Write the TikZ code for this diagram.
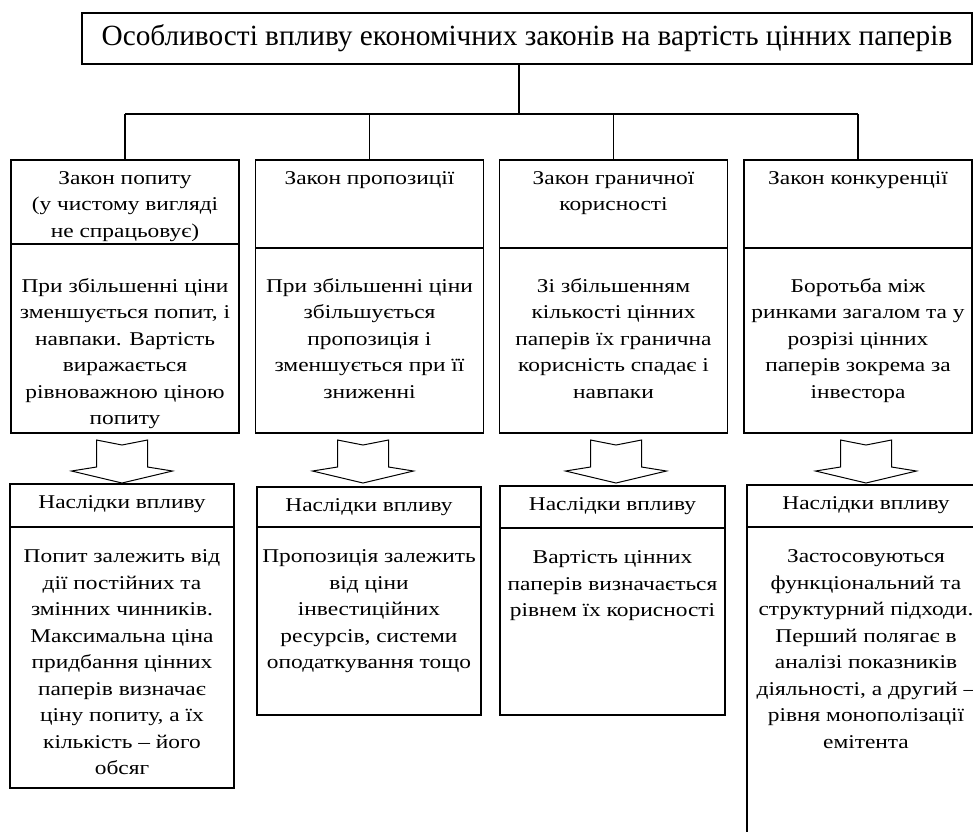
\documentclass[tikz,border=0pt]{standalone}
\usepackage{fontspec}
\setmainfont{Liberation Serif}
\newfontfamily\cellfont{Liberation Serif}[FakeStretch=1.2]
\usepackage{tikz}

\newcommand{\celltext}[4]{\parbox[c][#2pt][t]{#1pt}{\centering\vspace*{#3pt}\strut #4}}

\tikzset{
	cell/.style={draw, line width=1.2pt, inner sep=0pt, outer sep=0pt, font=\cellfont\fontsize{19.5}{26.5}\selectfont},
	heading/.style={cell, font=\fontsize{29.3}{34}\selectfont, minimum width=890pt, minimum height=51pt},
	link/.style={line width=1.1pt},
	blockarrow/.style={line width=1pt, fill=white, line join=miter},
}

\begin{document}
\begin{tikzpicture}[x=1pt, y=-1pt]
\pgfmathsetmacro{\boxw}{228}
\pgfmathsetmacro{\headpad}{5.5}
\pgfmathsetmacro{\bodypad}{17}
\useasboundingbox (0,0) rectangle (973,831);
\clip (0,0) rectangle (973,831);

\node[heading] (title) at (527,38.5) {Особливості впливу економічних законів на вартість цінних паперів};

\node[cell, anchor=north] (law1) at (125,160) {\celltext{\boxw}{84}{\headpad}{Закон попиту\\(у чистому вигляді\\не спрацьовує)}};
\node[cell, anchor=north] (law2) at (369.5,160) {\celltext{\boxw}{88}{\headpad}{Закон пропозиції}};
\node[cell, anchor=north] (law3) at (613.5,160) {\celltext{\boxw}{88}{\headpad}{Закон граничної\\корисності}};
\node[cell, anchor=north] (law4) at (858,160) {\celltext{\boxw}{88}{\headpad}{Закон конкуренції}};

\node[cell, anchor=north] (law1b) at (law1.south) {\celltext{\boxw}{189}{29.6}{При збільшенні ціни\\зменшується попит, і\\навпаки. Вартість\\виражається\\рівноважною ціною\\попиту}};
\node[cell, anchor=north] (law2b) at (law2.south) {\celltext{\boxw}{185}{25.6}{При збільшенні ціни\\збільшується\\пропозиція і\\зменшується при її\\зниженні}};
\node[cell, anchor=north] (law3b) at (law3.south) {\celltext{\boxw}{185}{25.6}{Зі збільшенням\\кількості цінних\\паперів їх гранична\\корисність спадає і\\навпаки}};
\node[cell, anchor=north] (law4b) at (law4.south) {\celltext{\boxw}{185}{25.6}{Боротьба між\\ринками загалом та у\\розрізі цінних\\паперів зокрема за\\інвестора}};

\coordinate (bus) at (519,114);
\draw[link] ([xshift=-8pt]title.south) -- (bus);
\draw[link] (bus -| law1.north) -- (bus -| law4.north);
\foreach \i in {1, 2, 3, 4}{
	\draw[link] (bus -| law\i.north) -- (law\i.north);
}

\foreach \i/\x/\t/\w/\h in {1/122/484/224/43, 2/369/487/224/40, 3/612.5/486/225/42, 4/866/485/238/42}{
	\node[cell, anchor=north] (effect\i) at (\x,\t) {\celltext{\w}{\h}{\headpad}{Наслідки впливу}};
}

\node[cell, anchor=north] (effect1b) at (effect1.south) {\celltext{224}{261}{\bodypad}{Попит залежить від\\дії постійних та\\змінних чинників.\\Максимальна ціна\\придбання цінних\\паперів визначає\\ціну попиту, а їх\\кількість – його\\обсяг}};
\node[cell, anchor=north] (effect2b) at (effect2.south) {\celltext{224}{188}{\bodypad}{Пропозиція залежить\\від ціни\\інвестиційних\\ресурсів, системи\\оподаткування тощо}};
\node[cell, anchor=north] (effect3b) at (effect3.south) {\celltext{225}{187}{\bodypad}{Вартість цінних\\паперів визначається\\рівнем їх корисності}};
\node[cell, anchor=north] (effect4b) at (effect4.south) {\celltext{238}{343}{\bodypad}{Застосовуються\\функціональний та\\структурний підходи.\\Перший полягає в\\аналізі показників\\діяльності, а другий –\\рівня монополізації\\емітента}};

\foreach \x in {122, 363, 616, 866}{
	\draw[blockarrow] (\x-25.5,440) -- (\x,445) -- (\x+25.5,440) -- (\x+25.5,467) -- (\x+50.5,471) -- (\x,483) -- (\x-50.5,471) -- (\x-25.5,467) -- cycle;
}

\end{tikzpicture}
\end{document}
